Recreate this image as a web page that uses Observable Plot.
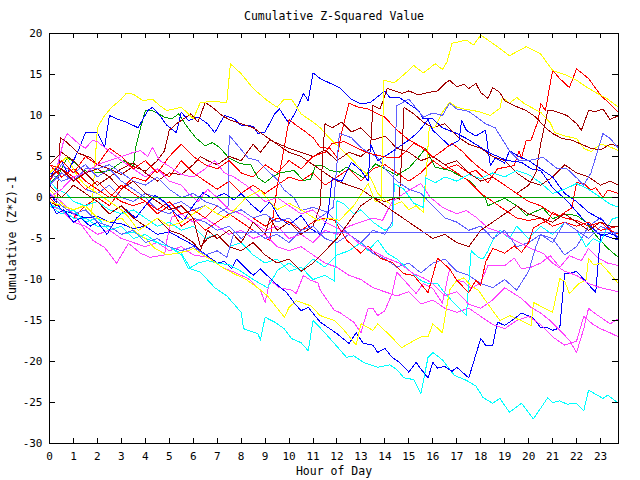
<!DOCTYPE html>
<html><head><meta charset="utf-8">
<script src="https://cdn.jsdelivr.net/npm/d3@7"></script>
<script src="https://cdn.jsdelivr.net/npm/@observablehq/plot@0.6"></script>
<style>body{margin:0;background:#fff}</style>
</head><body><div id="chart"></div>
<script>
const title = "Cumulative Z-Squared Value";
const xLabel = "Hour of Day";
const yLabel = "Cumulative (Z*Z)-1";
const hourTicks = [0,1,2,3,4,5,6,7,8,9,10,11,12,13,14,15,16,17,18,19,20,21,22,23];
const valueTicks = [-30,-25,-20,-15,-10,-5,0,5,10,15,20];

// each series: [hour, cumulative value] pairs
const blue1 = [[0,1],[0.1,2.9],[0.5,4.5],[0.75,3],[1.2,5.7],[1.5,7.9],[2,7.9],[2.3,6.1],[2.5,10],[2.8,9.6],[3.2,9.2],[3.7,8.5],[4.1,10.6],[4.3,11],[4.6,10],[4.9,8.8],[5.3,7.9],[5.5,10.4],[5.8,9.4],[6.2,9.8],[6.6,9],[6.9,7.9],[7.3,10],[7.7,9.6],[8,8.8],[8.5,8.7],[8.7,7.8],[9,8],[9.4,10.2],[9.6,10.8],[10,9],[10.3,10.6],[10.6,12.7],[10.8,11.8],[11,15.2],[11.3,14.5],[12.1,13.4],[12.6,12],[13,11.4],[13.4,11.6],[14,13],[14.2,12.2],[14.6,12.2],[15.4,10.6],[15.6,9.6],[16,9.6],[16.4,8.5],[17,7.8],[17.4,7.2],[18,6.1],[18.4,5.4],[19.1,4.5],[19.7,4.3],[20.1,3.5],[20.5,3.3],[21,1.2],[21.6,-0.4],[22.2,-2.4],[22.9,-4.4],[23.75,-5.2]];
const blue2 = [[0,0.5],[0.25,-0.5],[0.5,-1.5],[1,-2],[1.5,-2.5],[2,-2.3],[2.5,-3],[3,-3.2],[3.5,-3.8],[4,-3.5],[4.5,-4.5],[5,-4.2],[5.5,-5],[6,-5.8],[6.3,-6.5],[7,-8],[7.3,-7.8],[7.6,-8.7],[7.8,-7.5],[8.5,-9.5],[8.8,-8.7],[9.4,-10.4],[9.9,-11.6],[10.2,-12.8],[10.5,-13.8],[10.8,-13.4],[11.3,-15.2],[12,-16.6],[12.5,-17.8],[12.8,-16.5],[13.1,-17.8],[13.5,-18],[13.7,-18.9],[14,-18.4],[14.3,-19.5],[14.6,-20.1],[15,-21.3],[15.3,-20.1],[15.5,-20.9],[15.8,-22],[16,-20.1],[16.2,-20.8],[16.5,-20.6],[16.8,-21.2],[17,-20.7],[17.5,-22],[18,-17.2],[18.2,-18],[18.5,-18],[18.7,-15.2],[19,-15.6],[19.3,-15],[19.7,-14.1],[20.2,-14.7],[20.5,-15.9],[20.8,-15.9],[21,-16.2],[21.3,-15.9],[21.5,-9.3],[21.7,-9.3],[22,-9],[22.8,-11.6],[23,-4.6],[23.4,-4.4],[23.75,-4.8]];
const blue3 = [[0,-0.5],[0.3,-2],[0.6,-1.5],[1,-3],[1.3,-2.5],[1.7,-3.5],[2,-3],[2.4,-4.5],[2.8,-2.5],[3.2,-1.5],[3.6,-2.5],[4,-1],[4.4,0.3],[4.8,-0.5],[5.2,-1.8],[5.6,-2.8],[6,-1],[6.4,0.6],[6.8,-0.1],[7.3,0.5],[7.7,-0.3],[8,0.5],[8.4,-0.8],[8.8,-1.8],[9.2,-0.5],[9.6,-2.5],[10,-3.3],[10.5,-2.2],[10.9,-3.8],[11.3,-4.5],[11.6,-2.5],[11.8,2.3],[12.2,2],[12.6,4.3],[13,3.3],[13.3,2],[13.4,6.5],[13.7,4.5],[14,5],[14.5,6],[15,7],[15.4,8],[15.8,9.5],[16,8.2],[16.7,6.3],[17.1,7],[17.2,9.4],[17.4,8.2],[17.8,7.5],[18.2,8.2],[18.4,3.9],[18.6,4.8],[19,4.2],[19.2,5.7],[19.6,5],[20,4.5],[20.5,3.5],[21,2.5],[21.5,0.5],[22,-0.5],[22.5,-1.8],[23.1,-2.8],[23.4,-4],[23.75,-5.2]];
const lightBlueFlat = [[0,0.5],[0.5,-1],[1,-2],[1.5,-1.5],[2,-3],[2.5,-3.5],[3,-4.5],[3.5,-4],[4,-5.5],[4.5,-5],[5,-6],[5.5,-6.5],[6,-6],[6.5,-7],[7,-6.5],[7.4,-7.3],[7.7,-4.27],[23.75,-4.27]];
const lightBlue1 = [[0,3],[0.5,2],[1,2.5],[1.5,1],[2,0.5],[2.5,1.5],[3,0],[3.5,-0.5],[4,0.5],[4.5,0],[5,-1],[5.5,-0.5],[6,-1.5],[6.5,-1],[7,-2],[7.45,-1.2],[7.5,7.6],[7.9,6.2],[8.3,4.8],[8.7,4.5],[9.1,3.3],[9.5,2.2],[9.8,0.9],[10.2,0],[10.5,-1.6],[11,-1.2],[11.6,-1.8],[12,-3],[12.5,-4.5],[13,-5.5],[13.5,-6.8],[14,-7.5],[14.5,-8.5],[15,-8],[15.5,-9.2],[16,-8],[16.5,-7.5],[17,-9],[17.5,-9.5],[18,-10.5],[18.5,-11],[19,-10],[19.5,-11.3],[20,-9],[20.3,-6],[20.5,-4.5],[21,-5],[21.5,-7],[22,-6],[22.5,-3.5],[23,-2.5],[23.4,-3.8],[23.75,-5]];
const lightBlue2 = [[0,2],[0.5,4],[1,3],[1.5,4],[2,2.5],[2.5,3.5],[3,2],[3.5,1],[4,0],[4.5,-1.5],[5,-2],[5.5,-1],[6,-2.5],[6.5,-3],[7,-4],[7.5,-3.5],[8,-5],[8.5,-4],[9,-5],[9.5,-4.5],[10,-5.5],[10.5,-4],[11,-3],[11.5,-2],[11.85,-1.2],[12.1,7.8],[12.6,7.3],[13,6.1],[13.2,5.7],[13.7,4.9],[14,3.5],[14.5,2],[15,1],[15.5,0.5],[16,-1],[16.5,-2.5],[17,-3],[17.5,-4],[18,-3.5],[18.5,-5],[19,-4],[19.5,-6],[20,-5.5],[20.5,-4.5],[21,-5.5],[21.5,-3],[22,-4],[22.5,-5],[23,-3.5],[23.75,-4.5]];
const lightBlue3 = [[0,1.5],[0.5,3],[1,2],[1.5,3.5],[2,3.5],[2.5,4],[3,3],[3.5,2],[4,1.5],[4.5,2.5],[5,1],[5.5,0],[6,0.5],[6.5,-0.5],[7,-1],[7.5,-2],[8,-1.5],[8.5,-2.5],[9,-2],[9.5,-3],[10,-2.5],[10.5,-4],[11,-3.5],[11.5,-5],[12,-5.5],[12.5,-4.5],[13,-5.5],[13.5,-4],[14,-4.5],[14.3,-3],[14.5,11.2],[15,12],[15.6,9.8],[16,10.3],[16.4,10],[16.7,11.5],[17,10.8],[17.5,10.5],[18.2,9],[18.6,8.5],[19.2,5.7],[19.6,4.5],[20,4.5],[20.6,4.9],[21.2,3.5],[21.6,3.5],[22,2.4],[22.3,1.5],[22.6,3],[23.1,7.8],[23.4,7.2],[23.75,6]];
const cyan1 = [[0,-0.8],[0.5,-1.5],[1,-2.5],[1.5,-2.5],[2,-3.5],[2.5,-3.5],[3,-4.5],[3.5,-4.2],[4,-5],[4.5,-5.5],[5,-6],[5.5,-6.8],[5.9,-8.7],[6.3,-9.1],[6.9,-11],[7.4,-12],[8,-14],[8.1,-16],[8.7,-16.6],[8.8,-17.4],[9,-14.6],[9.4,-15.2],[9.8,-16],[10.1,-17.2],[10.5,-17.7],[10.8,-18.7],[11,-15],[11.3,-15.9],[11.8,-17.5],[12.4,-19.5],[12.7,-19.3],[13.1,-20.1],[13.7,-20.7],[14.2,-20.4],[14.5,-21],[14.8,-22],[15.2,-22.2],[15.5,-23.9],[15.8,-19.5],[16,-18.9],[16.4,-19.8],[16.9,-21.7],[17.4,-22.3],[17.8,-23],[18.1,-24.4],[18.5,-25.1],[18.8,-24.5],[19.2,-26.2],[19.7,-25.1],[20.2,-27],[20.8,-24.4],[21,-25],[21.3,-24.8],[21.6,-25.2],[22,-25.1],[22.3,-26],[22.5,-23.5],[22.8,-24],[23.1,-24.5],[23.3,-24.1],[23.75,-25.1]];
const cyan2 = [[0,-1],[0.5,-2],[1,-1.5],[1.5,-3],[2,-2.5],[2.5,-4],[3,-3.5],[3.5,-5],[4,-4.5],[4.5,-5.5],[5,-6],[5.5,-7],[5.8,-8.7],[6.2,-8],[6.6,-7.7],[7,-8],[7.5,-8.2],[8,-9],[8.5,-10],[9.1,-11],[9.4,-9.5],[9.5,-8.9],[10,-8],[10.5,-9],[11,-7.5],[11.5,-8.5],[12,-7],[12.5,-6.5],[13,-5.5],[13.3,-6.5],[13.7,-5.2],[14.1,-6.8],[14.5,-7.5],[15.1,-9.1],[15.5,-10.1],[15.8,-10.5],[16.2,-10.5],[16.4,-11.3],[16.8,-12.6],[17.2,-13.8],[17.4,-14.4],[17.6,-6.5],[17.9,-7.3],[18.1,-7.5],[18.3,-6.5],[18.5,-5.2],[18.8,-4],[19.2,-5],[19.5,-3.5],[20,-5],[20.5,-3.5],[21,-4.5],[21.5,-3],[22,-4],[22.4,-6],[22.7,-5],[23,-5.5],[23.3,-3.5],[23.5,-2.6],[23.75,-2.4]];
const cyan3 = [[0,2],[0.3,1],[0.7,0.5],[1,-0.5],[1.5,-1],[2,-0.5],[2.5,-1.5],[3,-2],[3.5,-1.5],[4,-2.5],[4.5,-3.5],[5,-3],[5.5,-4],[6,-3.5],[6.5,-5],[7,-4.5],[7.5,-6],[8,-5.5],[8.5,-7],[9,-8],[9.5,-7.5],[10,-9],[10.5,-8.5],[11,-10],[11.5,-9.5],[11.9,-10.2],[12,-0.4],[12.3,-0.8],[12.7,-2],[13,-1.5],[13.5,-3],[14,-4],[14.3,-3.5],[14.4,1.7],[14.8,1],[15.2,-0.7],[15.6,-1.2],[15.7,2.4],[16.1,1.8],[16.5,2.5],[17,2],[17.5,2.8],[18,2.3],[18.5,3],[19,2.5],[19.5,3.3],[20,2.8],[20.5,1.8],[21,0.5],[21.5,1],[22,1.7],[22.5,1],[23,0],[23.4,-0.8],[23.75,-1.2]];
const magenta1 = [[0,-1],[0.5,-1.5],[1,-3],[1.5,-3.5],[2,-4.5],[2.5,-4],[3,-5],[3.5,-5.5],[4,-6],[4.5,-5.5],[5,-6.5],[5.5,-6],[6,-7],[6.6,-7.3],[7.2,-8.5],[7.7,-9.1],[8.3,-9.9],[8.8,-11.3],[9,-12.8],[9.2,-10.1],[9.6,-11],[10.1,-11.3],[10.3,-11.7],[10.6,-9.5],[10.9,-10.1],[11.2,-10.4],[11.3,-11.3],[11.9,-13.8],[12.1,-14],[12.7,-15.2],[13,-16.5],[13.3,-13.5],[13.5,-13.5],[13.7,-14.4],[14,-13.8],[14.3,-11.7],[14.5,-9.1],[14.9,-10.4],[15.3,-11.7],[15.6,-10.5],[16,-11.1],[16.4,-12.9],[16.7,-8.7],[17,-10.1],[17.3,-10.3],[17.6,-11.1],[18,-10.4],[18.3,-8.3],[19,-8.3],[19.4,-7.4],[19.7,-8.7],[20.1,-8.5],[20.5,-8],[20.9,-7.1],[21.3,-8.5],[21.7,-7.1],[22.2,-7.7],[22.5,-6.2],[22.9,-7.4],[23.3,-8],[23.75,-8.3]];
const magenta2 = [[0,0.5],[0.5,-0.5],[1,-2],[1.5,-4],[1.8,-5.2],[2.3,-6.1],[2.8,-8],[3.3,-5.6],[3.8,-6.8],[4.2,-7.3],[4.8,-7],[4.9,-5.2],[5.1,-2.4],[5.5,-2],[6,-3],[6.5,-2.5],[7,-3.5],[7.5,-4.5],[8,-4],[8.5,-5],[9,-4.5],[9.5,-6],[10,-6.5],[10.5,-6],[11,-7],[11.5,-8],[12,-8.5],[12.5,-9.5],[13,-10],[13.5,-11],[14,-11.5],[14.5,-12],[15,-11.5],[15.5,-13],[16,-12.5],[16.5,-13.5],[17,-14],[17.5,-13.5],[18,-14.5],[18.5,-15.5],[19,-16],[19.5,-15],[20,-14.5],[20.5,-15.5],[21,-17],[21.5,-18],[22,-17.5],[22.3,-14.5],[22.7,-15.5],[23,-16],[23.4,-16.5],[23.75,-17]];
const magenta3 = [[0,2],[0.3,3.5],[0.6,7],[0.75,7.8],[1.2,6.6],[1.5,6],[1.8,7],[2,6.8],[2.6,5.4],[3,4.5],[3.5,3.5],[4,2.5],[4.5,3.5],[5,2],[5.5,1.5],[5.8,0.5],[6.2,-0.5],[6.6,1],[7,0],[7.5,-1.5],[8,-2],[8.5,-3],[9,-4],[9.5,-3.5],[10,-5],[10.5,-4.5],[11,-5.5],[11.5,-4],[12,-4.5],[12.5,-3.5],[13,-3],[13.5,-2.5],[13.9,-2.8],[14.3,-0.5],[14.8,0.5],[15.2,1.2],[15.5,1.7],[15.9,0],[16.4,-1.2],[17,-2],[17.4,-1.6],[17.8,-2.4],[18.3,-3.7],[18.9,-4.3],[19.4,-5.2],[20,-6.1],[20.6,-6.8],[21,-8],[21.5,-9],[22,-9.5],[22.5,-10.5],[23,-11],[23.75,-11.5]];
const magenta4 = [[0,0],[0.5,1],[1,2.5],[1.5,3],[2,4],[2.5,4.5],[3,5],[3.5,5.5],[3.8,5.7],[4.1,5],[4.3,6.1],[4.6,4.5],[5,3.8],[5.5,2.8],[6,2.5],[6.5,3.5],[6.9,4.5],[7.3,3],[7.7,2.5],[8.2,1.5],[8.6,0.5],[9,-0.5],[9.5,0],[10,-1],[10.5,-2],[11,-1.5],[11.5,-3],[12,-3.7],[12.5,-4.5],[13,-5.8],[13.5,-6.5],[14,-7.3],[14.6,-8],[15.2,-9.3],[15.6,-9.8],[16,-10.5],[16.5,-12],[17,-11.5],[17.5,-13],[18,-13.5],[18.5,-12.5],[19,-11],[19.7,-12.3],[20.1,-13.4],[20.5,-14.1],[20.9,-15],[21.3,-16.2],[21.7,-17.4],[22,-18.9],[22.3,-16],[22.5,-13.5],[22.7,-14],[23.1,-14.8],[23.4,-15.4],[23.75,-14.8]];
const red1 = [[0,0],[0.5,-1.5],[1,-2.5],[1.5,-1],[2,0],[2.5,-1],[3,1],[3.5,2.5],[4,2],[4.5,3.5],[5,2.5],[5.5,4.5],[6,3],[6.5,2],[7,1],[7.5,2],[8,0.5],[8.5,1.5],[9,0.5],[9.5,1.5],[10,2.5],[10.5,2],[11,3],[11.5,1.5],[12,2.5],[12.5,3.5],[13,2],[13.5,3.5],[14,4],[14.5,3],[15,2],[15.5,3],[16,4.5],[16.5,3.5],[17,4],[17.5,3],[17.8,3.3],[18.3,1.8],[18.7,3.5],[19.4,3.9],[19.6,5.7],[19.7,4.8],[19.9,7],[20.1,7],[20.4,9.4],[20.5,11.5],[20.7,10.6],[21,15.5],[21.3,14.5],[21.7,13.4],[22,15.7],[22.5,14.5],[23,12.5],[23.75,10.4]];
const red2 = [[0,4],[0.5,3.5],[1,2.5],[1.5,1],[2,2],[2.5,0.5],[3,-0.5],[3.5,-1],[4,-0.5],[4.5,-2],[5,-1],[5.5,-3.5],[6,-2.5],[6.5,-4],[7,-3],[7.5,-2],[8,-3],[8.5,-4],[9,-5],[9.2,-5.2],[9.5,1.2],[10,9.5],[10.3,8.8],[10.6,8.2],[11,7.3],[11.3,6.1],[11.7,6],[12,4.9],[12.2,8],[12.5,11.5],[12.9,11],[13.3,10.8],[13.7,10.2],[14,9.8],[14.4,8.5],[15,7],[15.3,6.6],[16,5],[16.5,4],[17,3],[17.5,2],[18,0.5],[18.5,-0.5],[19,-1.5],[19.5,-2.5],[20,-2.8],[20.5,-2.5],[21,-3.5],[21.5,-3],[22,-3.5],[22.5,-3],[23,-4],[23.75,-3.5]];
const red3 = [[0,4],[0.5,2.5],[1,3.5],[1.5,2],[2,1],[2.5,0],[3,1.5],[3.5,0.5],[4,-0.5],[4.5,-1.5],[5,-0.5],[5.5,-2],[6,-1.5],[6.5,-2.5],[7,-1],[7.5,-2],[8,-1.5],[8.5,-2.5],[9,-3.5],[9.5,-2.5],[10,-3],[10.5,-4],[11,-3],[11.5,-2.5],[11.9,-2.8],[12.4,-5.2],[13,-6.8],[13.3,-5.9],[13.8,-7.4],[14.3,-7.9],[14.8,-9.3],[15.2,-9.5],[15.8,-11.6],[16.2,-7.4],[16.7,-8.7],[17,-10.1],[17.5,-11.6],[17.8,-10.1],[18,-10.7],[18.2,-7.9],[18.5,-6.2],[19,-6.8],[19.4,-5.9],[19.7,-6.7],[20,-5.5],[20.2,-3.7],[20.5,-3.2],[20.8,-2.8],[21,-1.8],[21.3,-2.3],[21.5,-1.8],[21.8,-1.3],[22,1.8],[22.3,1.7],[22.6,0.9],[22.8,1.2],[23.1,0],[23.3,0.9],[23.75,0.5]];
const red4 = [[0,2],[0.5,4.5],[1,3],[1.5,5],[2,4],[2.5,6],[3,5],[3.5,3.5],[4,4.5],[4.5,3],[5,5],[5.5,6.5],[6,5],[6.5,4],[7,3.5],[7.5,4.5],[8,3],[8.5,2.5],[9,4],[9.5,3],[10,4.5],[10.5,3.5],[11,5],[11.5,5.5],[11.8,6.6],[12.3,6.8],[12.8,6.1],[13.3,5.4],[14.1,4.9],[14.6,4.9],[15.2,6.6],[15.6,6.1],[16,4.9],[16.4,5.7],[16.8,6.6],[17.2,5.7],[17.6,4.5],[18,3.5],[18.5,2.5],[19,1.5],[19.5,0.5],[20,-0.5],[20.5,-1],[21,-2],[21.5,-2.5],[22,-2.8],[22.5,-3.5],[23,-3],[23.4,-4],[23.75,-4.5]];
const darkRed1 = [[0,-0.5],[0.3,-1],[0.45,7.3],[0.7,6.8],[1.2,5.4],[1.7,4.9],[2,4],[2.5,3.5],[3,2.8],[3.5,3.8],[4,3.2],[4.5,4.5],[4.8,5.7],[5,8.2],[5.3,9],[5.7,9.8],[5.9,10.2],[6.2,9.2],[6.5,11.6],[6.8,11],[7.2,10],[7.5,9.5],[8,9],[8.5,8.5],[9,7.5],[9.5,6.5],[10,5.5],[10.5,5],[11,4],[11.5,3],[12,2],[12.5,1.5],[13,1],[13.5,0],[14,-0.5],[14.5,0],[14.6,-0.2],[14.7,5],[14.8,11],[15.2,10.2],[15.6,9.2],[16,8.5],[16.5,9],[17,7.5],[17.5,6.5],[18,6],[18.5,5],[19,4.5],[19.5,3],[20,2],[20.5,1.5],[21,2.5],[21.5,4],[22,3],[22.5,2.5],[23,1.5],[23.4,2],[23.75,1.5]];
const darkRed2 = [[0,4],[0.5,5.5],[1,4.5],[1.5,3],[2,3.5],[2.5,2.5],[3,3.5],[3.5,4.2],[4,3],[4.5,2],[5,3],[5.5,2.8],[6,4],[6.3,5],[6.6,4.5],[7,4],[7.5,5],[8,4.5],[8.5,6.5],[8.8,5.5],[9.2,7],[9.6,6.5],[10,6],[10.5,5.5],[11,5],[11.5,5.8],[12,4.5],[12.5,5.5],[13,5],[13.4,6],[13.5,11.2],[13.8,10.8],[14.1,13.3],[14.4,13],[14.7,12.7],[15,13],[15.4,12.5],[15.8,12.8],[16.2,13],[16.5,13.9],[16.7,14.3],[17,13.5],[17.3,13.8],[17.5,13.3],[17.8,13.9],[18,12.8],[18.3,12.1],[18.5,13.4],[18.8,12.8],[19,11.8],[19.4,11.2],[19.9,10.6],[20.3,9.8],[20.7,8.5],[21,7.8],[21.4,7.2],[21.8,7],[22.2,6.5],[22.6,6],[23,5.8],[23.4,6.5],[23.75,6.3]];
const darkRed3 = [[0,1.5],[0.5,0],[1,1.5],[1.5,0.5],[2,-0.5],[2.5,-2],[3,-1],[3.5,-2.5],[4,-3.5],[4.5,-2.5],[5,-4],[5.5,-4.5],[6,-5.5],[6.3,-6.5],[6.6,-4],[7,-5],[7.5,-4],[8,-5.5],[8.5,-3],[9,-4.5],[9.2,-2.5],[9.5,-4],[10,-3],[10.5,-4.5],[11,-3.5],[11.3,-1],[11.4,5],[11.5,9],[11.8,8.5],[12.2,9.2],[12.6,8],[13,8.5],[13.5,7],[14,7.5],[14.5,6],[15,5.5],[15.5,4.5],[16,5],[16.5,4],[17,4.5],[17.5,3],[18,2],[18.5,2.5],[19,1.5],[19.5,0.5],[20,1.5],[20.3,3],[20.5,6.5],[20.8,10.6],[21,10.6],[21.3,10.3],[21.6,10],[22,9],[22.2,8.2],[22.5,10.6],[22.8,10.5],[23.1,10.8],[23.4,9.5],[23.75,10]];
const darkRed4 = [[0,2.5],[0.5,3.5],[1,2],[1.5,3],[2,1.5],[2.5,2.5],[3,1],[3.5,2],[4,0.5],[4.5,-0.5],[5,-1.5],[5.5,-1],[6,-2.5],[6.3,-6],[6.6,-5],[7,-4.5],[7.5,-6],[8,-6.5],[8.5,-5.5],[9,-7],[9.5,-8],[10,-7.5],[10.5,-9],[11,-8],[11.5,-6.5],[12,-5],[12.5,-3],[13,-1],[13.5,0],[14,-1],[14.5,-2],[15,-3],[15.5,-4],[16,-5],[16.5,-4.5],[17,-5.5],[17.5,-6],[18,-4],[18.5,-3],[19,-2],[19.5,-1],[20,-2],[20.5,-2.5],[21,-3],[21.5,-2],[22,-3],[22.5,-4],[23,-3],[23.4,-3.5],[23.75,-3.5]];
const green1 = [[0,1.7],[0.4,2.9],[0.75,4.9],[1.1,4.1],[1.4,3.3],[2,3],[2.5,3.3],[3.1,4.5],[3.5,3.9],[3.6,6.1],[3.8,8.5],[4,10.6],[4.3,10.6],[4.8,9.8],[5.1,9.6],[5.4,10.2],[5.7,8.8],[6.1,7.3],[6.5,6.3],[6.8,6.7],[7.1,6.1],[7.5,4.8],[8,4.1],[8.4,4],[8.7,2.4],[9,1.8],[9.3,2.5],[9.6,3],[10.2,3.3],[10.6,2.1],[10.9,2.2],[11.1,3.9],[11.4,3.9],[11.7,3.3],[12.1,3.1],[12.4,3.7],[13.1,2.4],[13.6,4.1],[14,3.5],[14.5,2.7],[15,3.6],[15.4,4.9],[15.7,6],[16.1,3.7],[16.7,3.3],[17.5,2.1],[17.8,1.2],[18.2,-0.1],[18.3,-1],[19,-0.1],[19.5,-1],[19.9,-2.2],[20.6,-1.3],[21,-2.6],[21.5,-2],[22,-2.2],[22.4,-3],[22.8,-4.6],[23.3,-6.2],[23.75,-7.3]];
const yellow1 = [[0,1],[0.3,0],[0.6,-1],[1,-1.5],[1.4,-1],[1.75,-2.3],[2,8.5],[2.3,10],[2.6,11],[3,12],[3.2,12.7],[3.5,12.6],[3.9,11.8],[4.3,12],[4.6,11.2],[4.9,10.6],[5.2,10.8],[5.5,11],[5.8,10.2],[6,9.6],[6.3,11.6],[6.8,11.7],[7.4,11.6],[7.55,16.3],[8,15.1],[8.5,13.3],[9.1,11.8],[9.5,11],[9.8,12],[10.1,12],[10.5,10.2],[11,9.2],[11.3,8.5],[11.7,7.2],[12.1,6.1],[12.5,5],[13,3.5],[13.4,2.4],[13.7,0.5],[14,-0.3],[14.3,-1],[14.7,-0.5],[15,-1.5],[15.3,-1],[15.6,-1.8],[15.75,4],[15.85,8.5],[16.1,8.6],[16.4,10.4],[16.7,11.6],[17,11],[17.3,10.8],[17.7,10.6],[18,10.4],[18.4,10],[18.8,10.9],[18.9,12.2],[19.2,11.5],[19.5,12.2],[19.8,11.5],[20.1,11],[20.5,10.4],[20.9,9.1],[21.1,7.9],[21.5,7.5],[22,7.2],[22.3,6],[22.6,5.6],[23,6.5],[23.3,6.3],[23.75,5.7]];
const yellow2 = [[0,-0.5],[0.5,-1],[1,-1.5],[1.5,-1],[2,-2.5],[2.5,-3],[3,-2.5],[3.5,-4],[4,-5],[4.4,-6.2],[4.9,-7],[5.3,-6.8],[5.8,-6.5],[6,-6.2],[6.3,-6.8],[6.8,-7.7],[7.2,-8.5],[7.7,-9.3],[8.2,-10],[8.6,-10.8],[9.1,-12],[9.8,-14.6],[10,-13.4],[10.3,-12.6],[10.9,-13.2],[11.3,-14.4],[11.9,-15],[12.3,-16.2],[12.8,-18],[13,-15.4],[13.5,-16.2],[13.7,-15.4],[14.2,-16.8],[14.7,-18.3],[15,-17.8],[15.5,-17],[15.8,-17],[16,-15.4],[16.4,-16.5],[16.7,-11.3],[17,-10.1],[17.3,-9.8],[17.6,-10.8],[17.9,-11.3],[18.3,-13],[18.8,-15],[19.2,-14.4],[19.6,-14.9],[20.1,-15.6],[20.2,-12.8],[20.6,-13.4],[21,-14],[21.3,-9.9],[21.5,-10.2],[21.7,-11.7],[22.1,-10.5],[22.4,-10],[22.5,-7.4],[22.7,-8.2],[23,-8],[23.4,-9.3],[23.75,-10.5]];
const yellow3 = [[0,3],[0.3,3.8],[0.7,4.9],[1,3.5],[1.2,2.4],[1.5,1.5],[2,0.5],[2.5,-0.5],[3,-1.5],[3.3,-2.4],[3.7,-4],[4,-3.5],[4.5,-2.5],[5,-3.5],[5.5,-3],[6,-2],[6.5,-1],[7,-2],[7.4,-2.5],[7.7,-1.6],[8.2,0],[8.8,0.9],[9.2,-0.5],[9.5,-1.5],[10,-0.7],[10.5,-1.5],[11.2,-2.8],[11.7,-2.5],[12.1,-2.8],[12.7,-1],[13.3,1.7],[13.6,-0.5],[13.85,-0.4],[13.95,14.3],[14.4,14],[14.8,15],[15.2,16.1],[15.6,15.2],[16.1,16.3],[16.4,15.6],[16.6,16.6],[16.8,18.8],[17.4,19.2],[17.7,18.6],[18,19.8],[18.5,18.8],[19.2,17.3],[19.9,18.4],[20.5,17.5],[21,15.5],[21.5,15],[22,14.3],[22.4,13.5],[22.8,12.8],[23.3,12],[23.75,11]];

const seriesColors = [
  [red1,"#ff0000"],[green1,"#00a000"],[blue1,"#0000ff"],[magenta1,"#ff40ff"],[cyan1,"#00ffff"],[darkRed1,"#a00000"],[yellow1,"#ffff00"],[lightBlue1,"#5f5fff"],
  [red2,"#ff0000"],[blue2,"#0000ff"],[magenta2,"#ff40ff"],[cyan2,"#00ffff"],[darkRed2,"#a00000"],[yellow2,"#ffff00"],[lightBlue2,"#5f5fff"],
  [red3,"#ff0000"],[blue3,"#0000ff"],[magenta3,"#ff40ff"],[cyan3,"#00ffff"],[darkRed3,"#a00000"],[yellow3,"#ffff00"],[lightBlue3,"#5f5fff"],
  [red4,"#ff0000"],[magenta4,"#ff40ff"],[darkRed4,"#a00000"],[lightBlueFlat,"#5f5fff"]
];

const lineMarks = seriesColors.map(([data, color]) =>
  Plot.line(data, {x: d => d[0], y: d => d[1], stroke: color, strokeWidth: 1, shapeRendering: "crispEdges"}));

const plotH = 480 - 33 - 37, plotW = 640 - 49 - 22;

const chart = Plot.plot({
  width: 640, height: 480,
  marginLeft: 49, marginRight: 22, marginTop: 33, marginBottom: 37,
  style: {fontFamily: "'DejaVu Sans Mono', monospace", fontSize: "11px", color: "black", background: "white"},
  x: {domain: [0, 23.75]},
  y: {domain: [-30, 20]},
  marks: [
    ...lineMarks,
    Plot.ruleY([0], {stroke: "#00a000", strokeWidth: 1, shapeRendering: "crispEdges"}),
    Plot.frame({stroke: "black", strokeWidth: 1, shapeRendering: "crispEdges"}),
    Plot.ruleX(hourTicks, {x: d => d, insetTop: plotH - 5, stroke: "black", shapeRendering: "crispEdges"}),
    Plot.ruleX(hourTicks, {x: d => d, insetBottom: plotH - 5, stroke: "black", shapeRendering: "crispEdges"}),
    Plot.ruleY(valueTicks, {y: d => d, insetLeft: plotW - 6, stroke: "black", shapeRendering: "crispEdges"}),
    Plot.ruleY(valueTicks, {y: d => d, insetRight: plotW - 6, stroke: "black", shapeRendering: "crispEdges"}),
    Plot.axisX({ticks: hourTicks, tickSize: 0, tickPadding: 9, label: null, tickFormat: d => String(d)}),
    Plot.axisY({ticks: valueTicks, tickSize: 0, tickPadding: 7, label: null, tickFormat: d => String(d)}),
    Plot.text([title], {text: d => d, frameAnchor: "top", lineAnchor: "middle", dy: -17, fontSize: 11.5}),
    Plot.text([xLabel], {text: d => d, frameAnchor: "bottom", lineAnchor: "middle", dy: 28, fontSize: 11.5}),
    Plot.text([yLabel], {text: d => d, frameAnchor: "left", lineAnchor: "middle", textAnchor: "middle", rotate: -90, dx: -37, fontSize: 11.5})
  ]
});
document.getElementById("chart").appendChild(chart);
</script>
</body></html>
